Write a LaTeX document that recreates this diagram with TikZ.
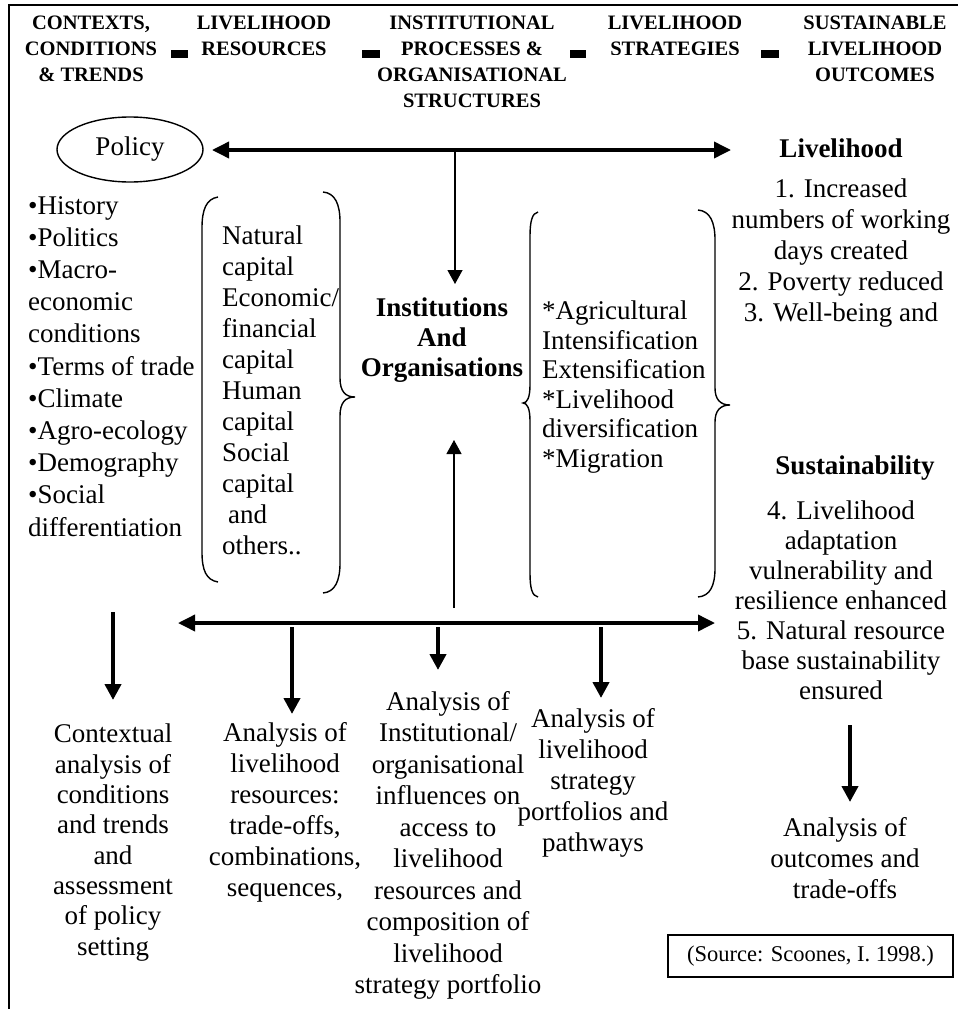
\documentclass[tikz,border=0pt]{standalone}
\usepackage{fontspec}
\setmainfont{Liberation Serif}
\usetikzlibrary{arrows.meta,shapes.geometric}
\begin{document}
\begin{tikzpicture}[x=1pt,y=-1pt,
  hdr/.style={font=\fontsize{20.5}{25.8}\selectfont\bfseries, align=center,
    inner sep=0pt, anchor=north, execute at begin node=\strut},
  body/.style={font=\fontsize{27}{#1}\selectfont, inner sep=0pt,
    execute at begin node=\strut},
  body/.default=31,
  boldbody/.style={font=\fontsize{27}{#1}\selectfont\bfseries, inner sep=0pt,
    execute at begin node=\strut},
  boldbody/.default=30,
  sep/.style={fill=black, draw=none},
  bracket/.style={line width=1.4pt},
  bigarrow/.style={line width=4pt, -{Triangle[length=16pt,width=16pt]}},
  bigboth/.style={line width=3.6pt, {Triangle[length=17pt,width=16pt]}-{Triangle[length=17pt,width=16pt]}},
  thinarrow/.style={line width=1.2pt, -{Triangle[length=14pt,width=15pt]}},
]
\useasboundingbox (0,0) rectangle (958,1009);

% outer frame (top and left edges)
\draw[line width=2pt] (9,1009) -- (9,5) -- (958,5);

% ---------- header row ----------
\node[hdr] (hctx) at (91,16.1) {CONTEXTS,\\CONDITIONS\\\& TRENDS};
\node[hdr] (hres) at (264,16.1) {LIVELIHOOD\\RESOURCES};
\node[hdr] (hinst) at (472,16.1) {INSTITUTIONAL\\PROCESSES \&\\ORGANISATIONAL\\STRUCTURES};
\begin{scope}
  \clip (600,0) rectangle (760,54);
  \node[hdr] (hstrat) at (675,16.1) {LIVELIHOOD\\STRATEGIES};
\end{scope}
\node[hdr] (hout) at (875,16.1) {SUSTAINABLE\\LIVELIHOOD\\OUTCOMES};
\fill[sep] (171,50) rectangle (188,58);
\fill[sep] (362,50) rectangle (380,58);
\fill[sep] (570,50) rectangle (586,58);
\fill[sep] (761,50) rectangle (779,58);

% ---------- policy and top arrow ----------
\node[ellipse, draw, line width=1.4pt, minimum width=146pt, minimum height=65pt,
  inner sep=0pt, font=\fontsize{27}{31}\selectfont] (policy) at (130,149.5) {Policy};
\coordinate (topL) at (212,150);
\coordinate (topR) at (731,150);
\coordinate (topM) at (455,150);
\draw[bigboth] (topL) -- (topR);

\node[font=\fontsize{27}{31}\selectfont\bfseries, inner sep=0pt] (livh) at (841,148) {Livelihood};
\node[body, align=center, anchor=north] (livlist) at (841,179)
  {1. Increased\\numbers of working\\days created\\2. Poverty reduced\\3. Well-being and};

% ---------- contexts list ----------
\node[body=32.2, align=left, anchor=north west] (ctx) at (28,196)
  {•History\\•Politics\\•Macro-\\economic\\conditions\\•Terms of trade\\•Climate\\•Agro-ecology\\•Demography\\•Social\\differentiation};

% ---------- livelihood resources ----------
\draw[bracket] (218,197) .. controls (206,199) and (202,210) .. (202,228)
  -- (202,552) .. controls (202,570) and (206,580) .. (218,582);
\node[body=31, align=left, anchor=north west] (res) at (222,226)
  {Natural\\capital\\Economic/\\financial\\capital\\Human\\capital\\Social\\capital\\\hspace*{6pt}and\\others..};
\draw[bracket] (323,192) .. controls (335,193) and (340,204) .. (340,222)
  -- (340,378) .. controls (340,391) and (345,397) .. (355,397)
  .. controls (345,397) and (340,403) .. (340,416)
  -- (340,563) .. controls (340,581) and (335,592) .. (323,593);

% ---------- institutions ----------
\node[boldbody=30, align=center, anchor=north] (inst) at (442,298)
  {Institutions\\And\\Organisations};
\coordinate (instTop) at (455,284);
\draw[thinarrow] (topM) -- (instTop);
\coordinate (instBot) at (454,440);
\coordinate (lowM) at (454,608);
\draw[thinarrow] (lowM) -- (instBot);

% ---------- livelihood strategies ----------
\draw[bracket] (538,212) .. controls (532,213) and (530,222) .. (530,236)
  -- (530,385) .. controls (530,398) and (527,403) .. (523,403)
  .. controls (527,403) and (530,408) .. (530,421)
  -- (530,573) .. controls (530,588) and (532,596) .. (538,597);
\node[body=29.5, align=left, anchor=north west] (strat) at (542,301)
  {*Agricultural\\Intensification\\Extensification\\*Livelihood\\diversification\\*Migration};
\draw[bracket] (698,210) .. controls (710,211) and (715,222) .. (715,240)
  -- (715,388) .. controls (715,399) and (720,405) .. (730,405)
  .. controls (720,405) and (715,411) .. (715,422)
  -- (715,568) .. controls (715,586) and (710,596) .. (698,597);

% ---------- sustainability ----------
\node[font=\fontsize{27}{31}\selectfont\bfseries, inner sep=0pt] (sust) at (855,468) {Sustainability};
\node[body=30, align=center, anchor=north] (sustlist) at (841,501)
  {4. Livelihood\\adaptation\\vulnerability and\\resilience enhanced\\5. Natural resource\\base sustainability\\ensured};

% ---------- lower arrow and analyses ----------
\coordinate (lowL) at (178,623);
\coordinate (lowR) at (715,623);
\draw[bigboth] (lowL) -- (lowR);

\node[body=30.3, align=center, anchor=north] (a1) at (113,724)
  {Contextual\\analysis of\\conditions\\and trends\\and\\assessment\\of policy\\setting};
\node[body=31, align=center, anchor=north] (a2) at (285,722)
  {Analysis of\\livelihood\\resources:\\trade-offs,\\combinations,\\sequences,};
\node[body=31.5, align=center, anchor=north] (a3) at (448,691)
  {Analysis of\\Institutional/\\organisational\\influences on\\access to\\livelihood\\resources and\\composition of\\livelihood\\strategy portfolio};
\node[body=31, align=center, anchor=north] (a4) at (593,708)
  {Analysis of\\livelihood\\strategy\\portfolios and\\pathways};
\node[body=31, align=center, anchor=north] (a5) at (845,817)
  {Analysis of\\outcomes and\\trade-offs};

\coordinate (d1s) at (113,612); \coordinate (d1e) at (113,700);
\coordinate (d2s) at (292,627); \coordinate (d2e) at (292,714);
\coordinate (d3s) at (438,627); \coordinate (d3e) at (438,670);
\coordinate (d4s) at (601,627); \coordinate (d4e) at (601,698);
\coordinate (d5s) at (850,725); \coordinate (d5e) at (850,802);
\draw[bigarrow] (d1s) -- (d1e);
\draw[bigarrow] (d2s) -- (d2e);
\draw[bigarrow] (d3s) -- (d3e);
\draw[bigarrow] (d4s) -- (d4e);
\draw[bigarrow] (d5s) -- (d5e);

% ---------- source ----------
\node[draw, line width=1.3pt, minimum width=285pt, minimum height=42pt, inner sep=0pt,
  font=\fontsize{22.5}{26}\selectfont] (src) at (810.5,956) {(Source: Scoones, I. 1998.)};
\end{tikzpicture}
\end{document}
